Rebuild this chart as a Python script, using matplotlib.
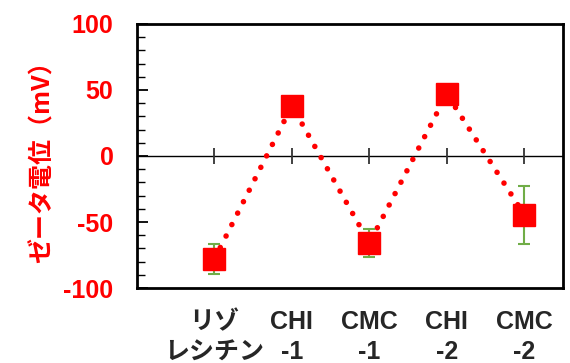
import matplotlib.pyplot as plt
from matplotlib.ticker import MultipleLocator

plt.rcParams['font.family'] = ['Liberation Sans', 'Noto Sans CJK JP', 'DejaVu Sans']
plt.rcParams['axes.unicode_minus'] = False

# zeta potential per sample (mV) with error
samples = ['リゾ\nレシチン', 'CHI\n-1', 'CMC\n-1', 'CHI\n-2', 'CMC\n-2']
zeta = [-78, 38, -66, 47, -44.5]
err = [11.5, 3, 10.5, 3, 22]

x = list(range(1, len(samples) + 1))

fig = plt.figure(figsize=(5.7, 3.63), dpi=100)
ax = fig.add_axes([0.2404, 0.2066, 0.7473, 0.7273])

ax.axhline(0, color='black', lw=1.0, zorder=1)
ax.plot(x, [0] * len(x), ls='none', marker='|', ms=11, mew=1.3,
        color='#333333', zorder=1)

ax.plot(x, zeta, color='red', lw=4.0, ls=(0, (0.01, 2.3)),
        dash_capstyle='round', zorder=2)
ax.errorbar(x, zeta, yerr=err, fmt='none', ecolor='#70AD47', elinewidth=1.5,
            capsize=4.5, capthick=1.5, zorder=3)
ax.plot(x, zeta, ls='none', marker='s', ms=16, color='red', mec='red', zorder=4)

ax.set_xlim(0, 5.5)
ax.set_ylim(-100, 100)
ax.yaxis.set_major_locator(MultipleLocator(50))
ax.yaxis.set_minor_locator(MultipleLocator(10))
ax.tick_params(axis='y', which='major', direction='in', length=8, width=1.3,
               pad=17, labelsize=18, labelcolor='red')
ax.tick_params(axis='y', which='minor', direction='in', length=6, width=1.0)
ax.set_xticks(x)
ax.set_xticklabels(samples, fontweight='bold', color='#262626', fontsize=18,
                   linespacing=1.32)
ax.tick_params(axis='x', length=0, pad=16)
for lab in ax.get_yticklabels():
    lab.set_fontweight('bold')

for s in ax.spines.values():
    s.set_linewidth(2)

ax.set_ylabel('ゼータ電位（mV）', color='red', fontsize=18, fontweight='bold',
              family=['Noto Sans CJK JP', 'DejaVu Sans'], labelpad=6)

fig.savefig('out.png', dpi=100)
